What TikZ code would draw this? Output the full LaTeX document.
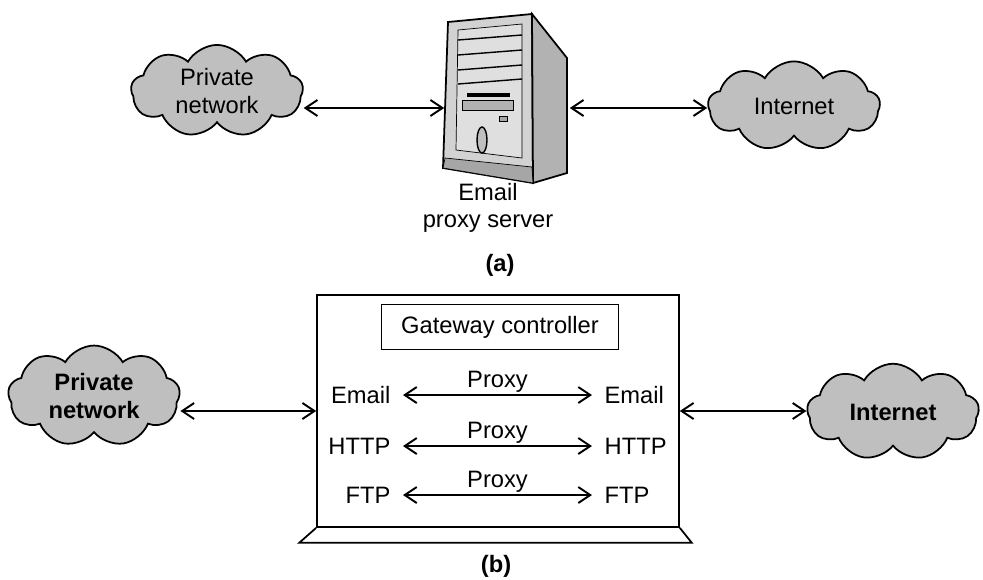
\documentclass[tikz,border=0pt]{standalone}
\usepackage{fontspec}
\setmainfont{Liberation Sans}
\usepackage{tikz}
\usetikzlibrary{shapes,arrows.meta,positioning}

\begin{document}
\begin{tikzpicture}[
    x=0.02cm, y=-0.02cm,
    font=\fontsize{13.5}{15.5}\selectfont,
    net/.style={cloud,draw,line width=1pt,cloud puffs=9,cloud puff arc=120,aspect=1.6,fill=gray!50,minimum width=3.44cm,minimum height=1.55cm,align=center,inner sep=0pt},
    netb/.style={net,font=\fontsize{13.5}{15.5}\selectfont\bfseries},
    link/.style={<->,>={Straight Barb[length=2.4mm,width=3.2mm]},line width=1.1pt},
    proto/.style={inner xsep=7pt},
    caption/.style={font=\fontsize{13.5}{15.5}\selectfont\bfseries}
]
\useasboundingbox (0,0) rectangle (983,579);

% (a) Email proxy server
\node[net] (pn1) at (217,91) {Private\\network};
\node[net] (inet1) at (794,106) {Internet};
\node[minimum width=2.5cm,minimum height=2.8cm,inner sep=0pt] (server) at (507,108) {};

% Tower
\draw[line width=1pt,fill=gray!35] (448,22) -- (532,14) -- (533,183) -- (443,168) -- cycle;
\draw[line width=1pt,fill=gray!60] (532,14) -- (567,58) -- (567,173) -- (533,183) -- cycle;
\draw[fill=gray!25] (458,30) -- (522,24) -- (522,158) -- (456,150) -- cycle;
\foreach \y in {40,55,70,84}
  \draw[thick] (458,\y) -- (522,\y-5);
\fill (467,93) rectangle (510,97);
\draw[fill=gray!60] (462,100) rectangle (513,110);
\draw[fill=gray!70] (499,116) rectangle (507,121);
\draw[thick,fill=gray!50] (482,140) ellipse [x radius=5, y radius=13];
\draw[fill=gray!70] (445,158) -- (532,167) -- (533,183) -- (443,168) -- cycle;

\node[align=center] (srvlbl) at (488,208) {Email\\proxy server};
\node[caption] (capa) at (500,265) {(a)};

\draw[link] (pn1.east |- server.west) -- (server.west);
\draw[link] (server.east) -- (inet1.west |- server.east);

% (b) Application gateway
\node[netb] (pn2) at (94,396) {Private\\network};
\node[netb] (inet2) at (893,412) {Internet};
\node[draw,line width=1pt,minimum width=7.24cm,minimum height=4.64cm] (gw) at (498,411) {};
\node[draw,line width=1pt,minimum width=4.74cm,minimum height=0.9cm] (ctrl) at (500,327) {Gateway controller};

% Protocols
\node[proto,anchor=east] (emL) at (403,395) {Email};
\node[proto,anchor=west] (emR) at (592,395) {Email};
\node[proto,anchor=east] (htL) at (403,446) {HTTP};
\node[proto,anchor=west] (htR) at (592,446) {HTTP};
\node[proto,anchor=east] (ftL) at (403,495) {FTP};
\node[proto,anchor=west] (ftR) at (592,495) {FTP};

\draw[link] (emL) -- node[above,inner sep=1pt] (pxe) {Proxy} (emR);
\draw[link] (htL) -- node[above,inner sep=1pt] (pxh) {Proxy} (htR);
\draw[link] (ftL) -- node[above,inner sep=1pt] (pxf) {Proxy} (ftR);

% Stand
\draw[line width=1pt] (gw.south west) -- ++(-17,15) -- ([shift={(12,15)}]gw.south east) -- (gw.south east);

\draw[link] (pn2.east |- gw.west) -- (gw.west);
\draw[link] (gw.east) -- (inet2.west |- gw.east);

\node[caption] (capb) at (496,566) {(b)};

\end{tikzpicture}
\end{document}
